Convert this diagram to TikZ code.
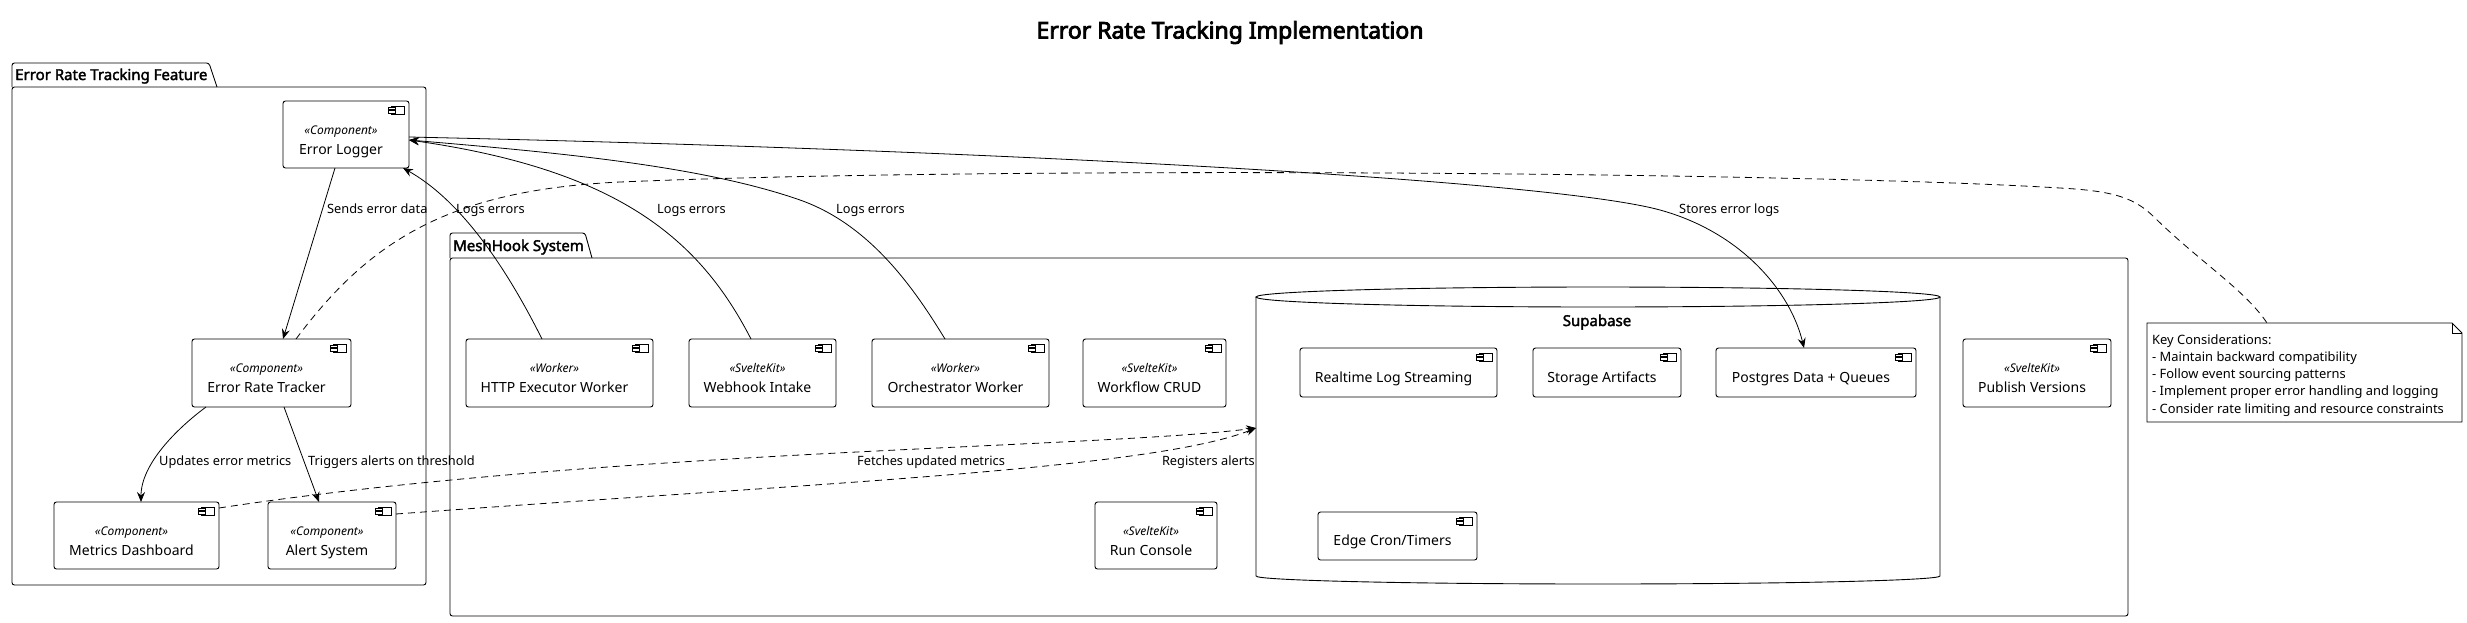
\documentclass[tikz,border=0pt]{standalone}
\usepackage{fontspec}
\setmainfont{Noto Sans}[AutoFakeBold=2.2]
\newfontfamily\ttlfont{Noto Sans}[FakeBold=3.6]
\usetikzlibrary{arrows.meta}

\tikzset{
  comp/.style={draw, fill=white, rounded corners=2.5pt, line width=0.9pt, inner sep=0pt, outer sep=0pt},
  ciconst/.style={draw, fill=white, line width=0.7pt},
  stereo/.style={font=\fontsize{12}{14}\selectfont\itshape, inner sep=0pt, anchor=base},
  cname/.style={font=\fontsize{14}{16}\selectfont, inner sep=0pt, anchor=base},
  lbl/.style={font=\fontsize{12.8}{15}\selectfont, inner sep=0pt, anchor=base west},
  pkgline/.style={line width=0.9pt, rounded corners=2.5pt},
  pkgtitle/.style={font=\fontsize{15}{17}\selectfont\bfseries, inner sep=0pt, anchor=base west},
  conn/.style={line width=0.8pt, -{Stealth[length=10pt,width=8pt,inset=3.5pt]}},
  dconn/.style={conn, dash pattern=on 7pt off 5pt},
  notelink/.style={line width=0.8pt, dash pattern=on 7pt off 5pt},
}

\newcommand{\compicon}[1]{%
  \draw[ciconst] ([shift={(-17.5,5)}]#1.north east) rectangle ++(13,8.5);
  \draw[ciconst] ([shift={(-21,6.5)}]#1.north east) rectangle ++(7,2.3);
  \draw[ciconst] ([shift={(-21,9.7)}]#1.north east) rectangle ++(7,2.3);}
\newcommand{\comptwo}[3]{%
  \node[stereo] (#1-st) at ([shift={(-5,33.5)}]#1.north) {«#2»};
  \node[cname] (#1-nm) at ([shift={(-5,53.5)}]#1.north) {#3};
  \compicon{#1}}
\newcommand{\compone}[2]{%
  \node[cname] (#1-nm) at ([shift={(-5,9.5)}]#1.center) {#2};
  \compicon{#1}}

\begin{document}
\begin{tikzpicture}[x=1pt,y=-1pt]
\useasboundingbox (0,0) rectangle (2467,622);
\fill[white] (0,0) rectangle (2467,622);

\node[font=\fontsize{23}{26}\ttlfont, inner sep=0pt, anchor=base] (title) at (1230,38.5) {Error Rate Tracking Implementation};

% packages
\draw[pkgline] (12,87) -- (12,63) -- (209,63) -- (217,87);
\draw[pkgline] (12,87) rectangle (426,585);
\node[pkgtitle] (pkgA) at (15,80) {Error Rate Tracking Feature};

\draw[pkgline] (450,258) -- (450,233) -- (585,233) -- (592,258);
\draw[pkgline] (450,258) rectangle (2128,616);
\node[pkgtitle] (pkgB) at (453,251) {MeshHook System};

% Supabase cylinder
\node[inner sep=0pt, outer sep=0pt, minimum width=684pt, minimum height=297pt] (supa) at (1598,435.5) {};
\draw[line width=0.9pt] (1598,297) ellipse [x radius=342pt, y radius=10pt];
\draw[line width=0.9pt] (1256,297) -- (1256,576) arc[start angle=180, end angle=360, x radius=342pt, y radius=8pt] -- (1940,297);
\node[font=\fontsize{15}{17}\selectfont\bfseries, inner sep=0pt, anchor=base] (supa-t) at (1597,326) {Supabase};

% components
\node[comp, minimum width=126pt, minimum height=67pt] (el) at (346,134.5) {};
\comptwo{el}{Component}{Error Logger}
\node[comp, minimum width=159pt, minimum height=68pt] (ert) at (271.5,373) {};
\comptwo{ert}{Component}{Error Rate Tracker}
\node[comp, minimum width=165pt, minimum height=67pt] (md) at (136.5,535.5) {};
\comptwo{md}{Component}{Metrics Dashboard}
\node[comp, minimum width=128pt, minimum height=67pt] (al) at (332,535.5) {};
\comptwo{al}{Component}{Alert System}

\node[comp, minimum width=187pt, minimum height=68pt] (http) at (559.5,373) {};
\comptwo{http}{Worker}{HTTP Executor Worker}
\node[comp, minimum width=147pt, minimum height=68pt] (wh) at (762.5,373) {};
\comptwo{wh}{SvelteKit}{Webhook Intake}
\node[comp, minimum width=177pt, minimum height=68pt] (orch) at (960.5,373) {};
\comptwo{orch}{Worker}{Orchestrator Worker}
\node[comp, minimum width=143pt, minimum height=68pt] (crud) at (1154.5,373) {};
\comptwo{crud}{SvelteKit}{Workflow CRUD}
\node[comp, minimum width=148pt, minimum height=68pt] (pub) at (2037,373) {};
\comptwo{pub}{SvelteKit}{Publish Versions}
\node[comp, minimum width=122pt, minimum height=67pt] (rc) at (1156,535.5) {};
\comptwo{rc}{SvelteKit}{Run Console}

\node[comp, minimum width=197pt, minimum height=49pt] (rt) at (1398.5,372.5) {};
\compone{rt}{Realtime Log Streaming}
\node[comp, minimum width=148pt, minimum height=49pt] (sa) at (1607,372.5) {};
\compone{sa}{Storage Artifacts}
\node[comp, minimum width=200pt, minimum height=49pt] (pg) at (1816,372.5) {};
\compone{pg}{Postgres Data + Queues}
\node[comp, minimum width=159pt, minimum height=48pt] (ec) at (1397.5,536) {};
\compone{ec}{Edge Cron/Timers}

% note
\node[inner sep=0pt, outer sep=0pt, minimum width=315pt, minimum height=99pt] (note) at (2304.5,372.5) {};
\draw[line width=0.9pt, fill=white] (note.north west) -- ([shift={(-10,0)}]note.north east) -- ([shift={(0,10)}]note.north east) -- (note.south east) -- (note.south west) -- cycle;
\draw[line width=0.9pt] ([shift={(-10,0)}]note.north east) -- ([shift={(-10,10)}]note.north east) -- ([shift={(0,10)}]note.north east);
\node[font=\fontsize{12.9}{17.3}\selectfont, align=left, inner sep=0pt, anchor=north west] (note-t) at (2152,334) {Key Considerations:\\- Maintain backward compatibility\\- Follow event sourcing patterns\\- Implement proper error handling and logging\\- Consider rate limiting and resource constraints};

% connectors
\draw[conn] ([shift={(-11,0)}]el.south) -- ([shift={(11.5,0)}]ert.north);
\draw[conn] ([shift={(-65.5,0)}]ert.south) .. controls (175,430) and (141,465) .. ([shift={(4.5,0)}]md.north);
\draw[conn] ([shift={(12.5,0)}]ert.south) -- ([shift={(-13,0)}]al.north);
\draw[dconn] ([shift={(0,6)}]md.north east) .. controls (600,450) and (1100,448) .. ([shift={(0,-7.5)}]supa.west);
\draw[dconn] ([shift={(0,12)}]al.north east) .. controls (800,484) and (1150,470) .. ([shift={(0,-7.5)}]supa.west);

\draw[conn] ([shift={(-17.5,0)}]http.north) .. controls (505,265) and (460,200) .. ([shift={(-6,0)}]el.south east);
\draw[conn] ([shift={(-11.5,0)}]wh.north) .. controls (700,240) and (620,170) .. ([shift={(0,5.5)}]el.east);
\draw[conn] ([shift={(-15.5,0)}]orch.north) .. controls (915,290) and (871,225) .. (800,200) .. controls (700,165) and (550,152) .. ([shift={(0,5.5)}]el.east);
\draw[conn] ([shift={(0,2.5)}]el.east) .. controls (1000,150) and (1550,180) .. (1660,210) .. controls (1740,232) and (1790,290) .. ([shift={(-12,0)}]pg.north);

\draw[notelink] ([shift={(24.5,0)}]ert.north) .. controls (370,240) and (450,190) .. (620,182) .. controls (1000,166) and (1800,172) .. (2060,188) .. controls (2115,191) and (2135,198) .. (2155,218) .. controls (2200,262) and (2245,290) .. ([shift={(-37.5,0)}]note.north);

% labels
\node[lbl] (l-send) at (327,213.5) {Sends error data};
\node[lbl] (l-log1) at (456,213.5) {Logs errors};
\node[lbl] (l-log2) at (657,213.5) {Logs errors};
\node[lbl] (l-log3) at (836,213.5) {Logs errors};
\node[lbl] (l-store) at (1679,213.5) {Stores error logs};
\node[lbl] (l-upd) at (159,465.5) {Updates error metrics};
\node[lbl] (l-trig) at (308,465.5) {Triggers alerts on threshold};
\node[lbl] (l-fetch) at (857,465.5) {Fetches updated metrics};
\node[lbl, anchor=base east] (l-reg) at (1255,465.5) {Registers alerts};
\end{tikzpicture}
\end{document}
